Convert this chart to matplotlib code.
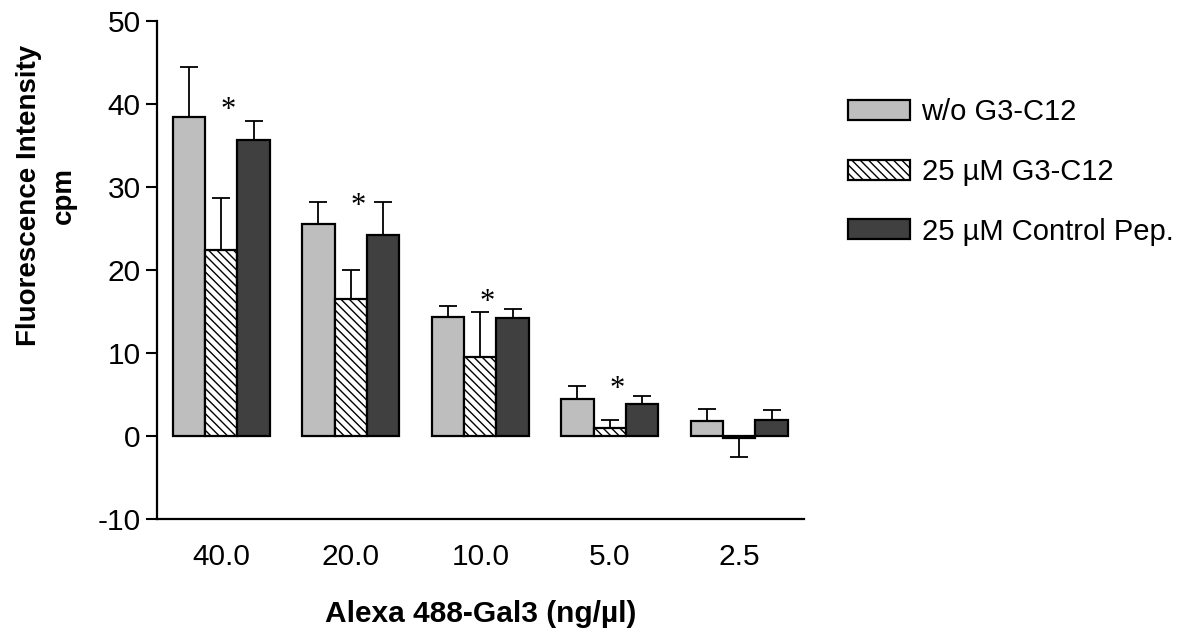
import numpy as np
import matplotlib
matplotlib.use( "Agg" )
import matplotlib.pyplot as plt


# ========================================================= #
# ===  data                                             === #
# ========================================================= #
concentrations = [ "40.0", "20.0", "10.0", "5.0", "2.5" ]
series_names   = [ "w/o G3-C12", "25 \u00b5M G3-C12", "25 \u00b5M Control Pep." ]

no_peptide     = [ 38.4, 25.5, 14.3, 4.5,  1.8  ]
no_peptide_err = [  6.0,  2.6,  1.3, 1.5,  1.4  ]
g3c12          = [ 22.4, 16.5,  9.5, 1.0, -0.25 ]
g3c12_err      = [  6.2,  3.5,  5.4, 0.9,  2.3  ]
control        = [ 35.6, 24.2, 14.15, 3.9, 1.9  ]
control_err    = [  2.3,  3.9,  1.1, 0.9,  1.2  ]

# significance marks (group index, height)
star_groups    = [ 0, 1, 2, 3 ]
star_heights   = [ 39.2, 27.6, 16.0, 5.6 ]


# ========================================================= #
# ===  plot                                             === #
# ========================================================= #
plt.rcParams["font.family"]        = [ "Liberation Sans", "DejaVu Sans" ]
plt.rcParams["hatch.linewidth"]    = 1.0
plt.rcParams["axes.unicode_minus"] = False

fig = plt.figure( figsize=(11.99, 6.31), dpi=100 )
ax  = fig.add_axes( [ 156.5/1199, 1-519/631, (804-156.5)/1199, (519-20.5)/631 ] )

# ------------------------------------------------- #
# --- [1] bars and error bars                   --- #
# ------------------------------------------------- #
x      = np.arange( len( concentrations ) )
width  = 0.25
styles = [ dict( color="#bebebe" ),
           dict( color="white", hatch="\\\\\\\\" ),
           dict( color="#404040" ) ]
values = [ no_peptide, g3c12, control ]
errors = [ no_peptide_err, g3c12_err, control_err ]

for k, ( vals, errs, sty ) in enumerate( zip( values, errors, styles ) ):
    vals = np.array( vals )
    errs = np.array( errs )
    pos  = x + ( k-1 )*width
    ax.bar( pos, vals, width, edgecolor="black", linewidth=1.6,
            label=series_names[k], zorder=2, **sty )
    # one-sided error bars, pointing away from zero
    lower = np.where( vals < 0, errs, 0.0 )
    upper = np.where( vals >= 0, errs, 0.0 )
    ax.errorbar( pos, vals, yerr=[ lower, upper ], fmt="none",
                 ecolor="black", elinewidth=1.3, capsize=6.2, capthick=1.3,
                 zorder=3 )

for g, h in zip( star_groups, star_heights ):
    ax.text( g + 0.055, h, "*", ha="center", va="center", fontsize=22,
             family=[ "Liberation Serif", "DejaVu Serif" ] )

# ------------------------------------------------- #
# --- [2] axis settings                         --- #
# ------------------------------------------------- #
ax.set_xlim( -0.5, 4.5 )
ax.set_ylim( -10, 50 )
ax.set_yticks( np.arange( -10, 51, 10 ) )
ax.set_xticks( x )
ax.set_xticklabels( concentrations )
ax.tick_params( axis="y", length=8, width=1.5, pad=3.5, labelsize=21.5 )
ax.tick_params( axis="x", length=0, pad=17, labelsize=21.5 )
for side in [ "top", "right" ]:
    ax.spines[side].set_visible( False )
for side in [ "left", "bottom" ]:
    ax.spines[side].set_linewidth( 1.6 )

ax.set_xlabel( "Alexa 488-Gal3 (ng/\u00b5l)", fontsize=21.5, fontweight="bold" )
ax.xaxis.set_label_coords( 0.5, -0.162 )
fig.text( 46.5/1199, 1-195/631, "Fluorescence Intensity\ncpm", rotation=90,
          ha="center", va="center", multialignment="center",
          fontsize=20, fontweight="bold", linespacing=1.45 )

# ------------------------------------------------- #
# --- [3] legend                                --- #
# ------------------------------------------------- #
ax.legend( loc="upper left", bbox_to_anchor=( 848/1199, 1-98/631 ),
           bbox_transform=fig.transFigure, frameon=False, fontsize=21,
           handlelength=2.12, handleheight=0.68, handletextpad=0.4,
           labelspacing=1.09, borderpad=0, borderaxespad=0 )

fig.savefig( "out.png", dpi=100 )
